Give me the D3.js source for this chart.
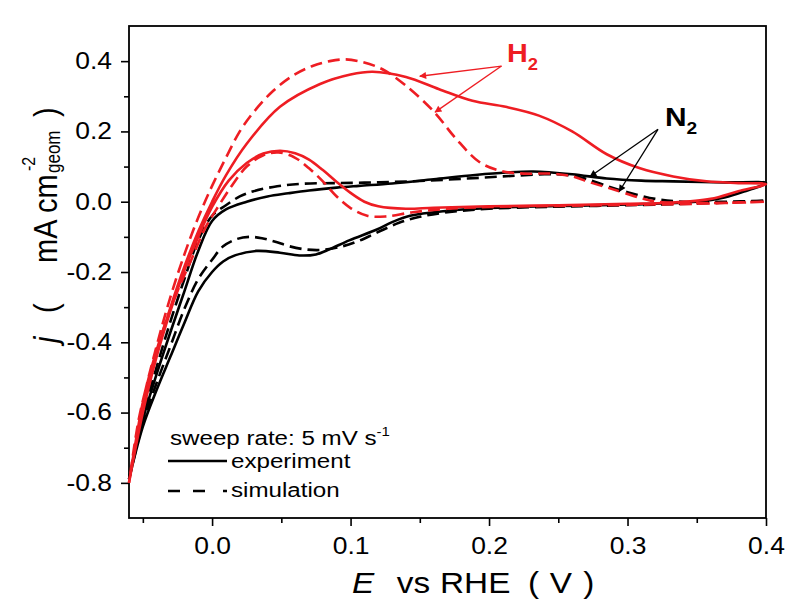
<!DOCTYPE html>
<html>
<head>
<meta charset="utf-8">
<script src="https://cdn.jsdelivr.net/npm/d3@7/dist/d3.min.js"></script>
<style>
  body { margin: 0; background: #fff; }
  svg text { font-family: Arial, "Liberation Sans", sans-serif; fill: #000; }
</style>
</head>
<body>
<svg id="chart" width="796" height="604"></svg>
<script>
// ---- data: [E (V vs RHE), j (mA cm-2)] per sweep branch ----
const h2ExpUp = [[-0.06,-0.80],[-0.05,-0.59],[-0.04,-0.43],[-0.03,-0.30],[-0.02,-0.185],[-0.01,-0.085],[0.0,0.0],[0.01,0.075],[0.025,0.165],[0.049,0.27],[0.078,0.335],[0.1,0.362],[0.116,0.37],[0.14,0.355],[0.164,0.32],[0.188,0.287],[0.212,0.27],[0.236,0.245],[0.26,0.2],[0.285,0.135],[0.309,0.095],[0.333,0.072],[0.357,0.058],[0.38,0.053],[0.4,0.05]];
const h2ExpDown = [[0.4,0.05],[0.38,0.03],[0.36,0.008],[0.33,-0.003],[0.3,-0.006],[0.25,-0.01],[0.2,-0.013],[0.16,-0.017],[0.14,-0.02],[0.12,-0.013],[0.11,0.0],[0.1,0.025],[0.09,0.056],[0.08,0.09],[0.07,0.12],[0.06,0.138],[0.049,0.145],[0.037,0.137],[0.025,0.11],[0.012,0.06],[0.0,-0.015],[-0.01,-0.1],[-0.02,-0.195],[-0.03,-0.31],[-0.04,-0.44],[-0.05,-0.6],[-0.06,-0.80]];
const h2SimUp = [[-0.06,-0.80],[-0.05,-0.57],[-0.04,-0.41],[-0.03,-0.27],[-0.02,-0.15],[-0.01,-0.045],[0.0,0.045],[0.01,0.125],[0.02,0.2],[0.03,0.255],[0.044,0.315],[0.058,0.358],[0.073,0.387],[0.085,0.4],[0.096,0.405],[0.108,0.398],[0.123,0.377],[0.14,0.33],[0.16,0.257],[0.176,0.18],[0.193,0.113],[0.208,0.088],[0.225,0.08],[0.245,0.08],[0.26,0.072],[0.273,0.055],[0.294,0.03],[0.31,0.01],[0.321,0.0],[0.35,-0.004],[0.4,0.0]];
const h2SimDown = [[0.4,0.0],[0.35,-0.006],[0.3,-0.009],[0.25,-0.012],[0.2,-0.015],[0.17,-0.02],[0.145,-0.03],[0.125,-0.042],[0.112,-0.04],[0.1,-0.018],[0.09,0.015],[0.08,0.058],[0.07,0.095],[0.06,0.125],[0.048,0.14],[0.037,0.132],[0.025,0.1],[0.015,0.05],[0.005,-0.01],[-0.005,-0.075],[-0.015,-0.165],[-0.025,-0.255],[-0.035,-0.36],[-0.045,-0.49],[-0.053,-0.62],[-0.06,-0.80]];
const n2ExpUp = [[-0.06,-0.79],[-0.05,-0.62],[-0.04,-0.49],[-0.03,-0.37],[-0.02,-0.255],[-0.01,-0.14],[0.0,-0.055],[0.01,-0.022],[0.025,0.0],[0.04,0.015],[0.055,0.024],[0.07,0.032],[0.09,0.04],[0.106,0.045],[0.13,0.052],[0.16,0.064],[0.19,0.076],[0.212,0.083],[0.232,0.086],[0.26,0.078],[0.285,0.066],[0.31,0.06],[0.333,0.058],[0.37,0.055],[0.4,0.053]];
const n2ExpDown = [[0.4,0.053],[0.385,0.03],[0.37,0.012],[0.35,0.0],[0.3,-0.008],[0.25,-0.012],[0.2,-0.018],[0.17,-0.026],[0.143,-0.04],[0.13,-0.058],[0.119,-0.079],[0.099,-0.11],[0.085,-0.135],[0.075,-0.15],[0.063,-0.153],[0.049,-0.145],[0.032,-0.14],[0.017,-0.152],[0.008,-0.17],[0.0,-0.2],[-0.01,-0.255],[-0.02,-0.345],[-0.03,-0.44],[-0.04,-0.535],[-0.05,-0.64],[-0.06,-0.79]];
const n2SimUp = [[-0.06,-0.79],[-0.05,-0.61],[-0.04,-0.47],[-0.03,-0.34],[-0.02,-0.22],[-0.01,-0.11],[0.0,-0.04],[0.01,-0.01],[0.02,0.015],[0.03,0.03],[0.047,0.044],[0.065,0.051],[0.09,0.053],[0.12,0.055],[0.15,0.059],[0.18,0.065],[0.21,0.072],[0.24,0.078],[0.255,0.077],[0.27,0.065],[0.285,0.045],[0.3,0.027],[0.32,0.008],[0.34,0.0],[0.37,0.0],[0.4,0.003]];
const n2SimDown = [[0.4,0.003],[0.35,-0.005],[0.3,-0.01],[0.25,-0.014],[0.2,-0.02],[0.17,-0.03],[0.15,-0.043],[0.135,-0.06],[0.119,-0.088],[0.105,-0.113],[0.094,-0.127],[0.08,-0.137],[0.068,-0.136],[0.056,-0.127],[0.045,-0.113],[0.036,-0.104],[0.027,-0.1],[0.018,-0.106],[0.008,-0.127],[0.0,-0.165],[-0.01,-0.22],[-0.02,-0.305],[-0.03,-0.41],[-0.04,-0.515],[-0.05,-0.63],[-0.06,-0.79]];

const xMajor = [0.0, 0.1, 0.2, 0.3, 0.4];
const xMinor = [-0.05, 0.05, 0.15, 0.25, 0.35];
const yMajor = [-0.8, -0.6, -0.4, -0.2, 0.0, 0.2, 0.4];
const yMinor = [-0.7, -0.5, -0.3, -0.1, 0.1, 0.3];

// annotation anchors in data units: label position, arrow start, arrow tips
const h2Note = { label: [0.213, 0.397], from: [0.209, 0.386], tips: [[0.150, 0.357], [0.161, 0.255]] };
const n2Note = { label: [0.327, 0.215], from: [0.322, 0.206], tips: [[0.273, 0.072], [0.294, 0.029]] };

const RED = "#ee1d23";
const STRETCH = 1.15; // the source figure's text is a bit wider than tall

const svg = d3.select("#chart");
const x = d3.scaleLinear().domain([-0.06, 0.4]).range([129, 766]);
const y = d3.scaleLinear().domain([-0.9, 0.5]).range([518, 26]);
const fmt = d => d.toFixed(1).replace("-0.0", "0.0");

// --- arrow markers ---
const defs = svg.append("defs");
[["arr-red", RED], ["arr-black", "#000"]].forEach(([id, c]) => {
    defs.append("marker").attr("id", id).attr("viewBox", "0 0 10 10")
        .attr("refX", 9).attr("refY", 5).attr("markerWidth", 9).attr("markerHeight", 7)
        .attr("markerUnits", "userSpaceOnUse").attr("orient", "auto")
        .append("path").attr("d", "M0,0 L10,5 L0,10 Z").attr("fill", c);
});

// --- axes ---
const xAxis = svg.append("g").attr("transform", `translate(0,${y(-0.9)})`)
    .call(d3.axisBottom(x).tickValues(xMajor).tickFormat(fmt).tickSize(8).tickPadding(12));
svg.append("g").attr("transform", `translate(0,${y(-0.9)})`)
    .call(d3.axisBottom(x).tickValues(xMinor).tickFormat("").tickSize(5));
const yAxis = svg.append("g").attr("transform", `translate(${x(-0.06)},0)`)
    .call(d3.axisLeft(y).tickValues(yMajor).tickFormat(fmt).tickSize(8).tickPadding(9));
svg.append("g").attr("transform", `translate(${x(-0.06)},0)`)
    .call(d3.axisLeft(y).tickValues(yMinor).tickFormat("").tickSize(5));

svg.selectAll(".domain").remove();
svg.selectAll(".tick line").attr("stroke", "#000").attr("stroke-width", 1.6);
xAxis.selectAll("text").attr("font-size", 23).attr("transform", `scale(${STRETCH},1)`);
yAxis.selectAll("text").attr("font-size", 23).attr("x", -17 / STRETCH).attr("transform", `scale(${STRETCH},1)`);

// frame
svg.append("rect")
    .attr("x", x(-0.06)).attr("y", y(0.5))
    .attr("width", x(0.4) - x(-0.06)).attr("height", y(-0.9) - y(0.5))
    .attr("fill", "none").attr("stroke", "#000").attr("stroke-width", 1.8);

// --- curves ---
const line = d3.line().x(d => x(d[0])).y(d => y(d[1])).curve(d3.curveCatmullRom.alpha(0.5));
const loops = [
    { up: n2SimUp, down: n2SimDown, color: "#000", dash: "12,6" },
    { up: n2ExpUp, down: n2ExpDown, color: "#000", dash: null },
    { up: h2SimUp, down: h2SimDown, color: RED, dash: "12,6" },
    { up: h2ExpUp, down: h2ExpDown, color: RED, dash: null }
];
const plot = svg.append("g");
loops.forEach(l => {
    plot.append("path")
        .datum(l.up.concat(l.down.slice(1)))
        .attr("d", line)
        .attr("fill", "none")
        .attr("stroke", l.color)
        .attr("stroke-width", 2.6)
        .attr("stroke-linejoin", "round")
        .attr("stroke-dasharray", l.dash);
});

// --- annotations ---
function note(n, name, color, marker, size) {
    n.tips.forEach(t => {
        svg.append("line")
            .attr("x1", x(n.from[0])).attr("y1", y(n.from[1]))
            .attr("x2", x(t[0])).attr("y2", y(t[1]))
            .attr("stroke", color).attr("stroke-width", 1.3)
            .attr("marker-end", `url(#${marker})`);
    });
    const g = svg.append("g").attr("transform", `translate(${x(n.label[0])},${y(n.label[1])}) scale(${STRETCH},1)`);
    const t = g.append("text").attr("font-size", size).attr("font-weight", "bold").style("fill", color);
    t.append("tspan").text(name);
    t.append("tspan").attr("font-size", size * 0.64).attr("dy", 8).text("2");
}
note(h2Note, "H", RED, "arr-red", 25);
note(n2Note, "N", "#000", "arr-black", 26);

// --- legend ---
const leg = svg.append("g");
const lt = leg.append("g").attr("transform", `translate(170,445) scale(${STRETCH},1)`)
    .append("text").attr("font-size", 21);
lt.append("tspan").text("sweep rate: 5 mV s");
lt.append("tspan").attr("font-size", 13).attr("dy", -9).text("-1");
leg.append("line").attr("x1", 168).attr("x2", 227).attr("y1", 461).attr("y2", 461)
    .attr("stroke", "#000").attr("stroke-width", 2.6);
leg.append("line").attr("x1", 168).attr("x2", 227).attr("y1", 491).attr("y2", 491)
    .attr("stroke", "#000").attr("stroke-width", 2.6).attr("stroke-dasharray", "12,13,12,18,4");
leg.append("g").attr("transform", `translate(231,468) scale(${STRETCH},1)`)
    .append("text").attr("font-size", 21).text("experiment");
leg.append("g").attr("transform", `translate(231,497) scale(${STRETCH},1)`)
    .append("text").attr("font-size", 21).text("simulation");

// --- axis titles ---
const xt = svg.append("g").attr("transform", `translate(352,593) scale(${STRETCH},1)`);
[["E", 0, true], ["vs", 39], ["RHE", 76.5], ["(", 153], ["V", 172], [")", 201]].forEach(([s, px, it]) => {
    xt.append("text").attr("x", px).attr("font-size", 29)
        .attr("font-style", it ? "italic" : "normal").text(s);
});

const yt = svg.append("g").attr("transform", `translate(57,343) rotate(-90) scale(1,${STRETCH})`);
[["j", 0, true], ["(", 30], ["mA", 80], ["cm", 130], [")", 226]].forEach(([s, px, it]) => {
    yt.append("text").attr("x", px).attr("font-size", 29)
        .attr("font-style", it ? "italic" : "normal").text(s);
});
yt.append("text").attr("x", 172).attr("y", -19).attr("font-size", 16).text("-2");
yt.append("text").attr("x", 170).attr("y", 3).attr("font-size", 17).text("geom");
</script>
</body>
</html>
